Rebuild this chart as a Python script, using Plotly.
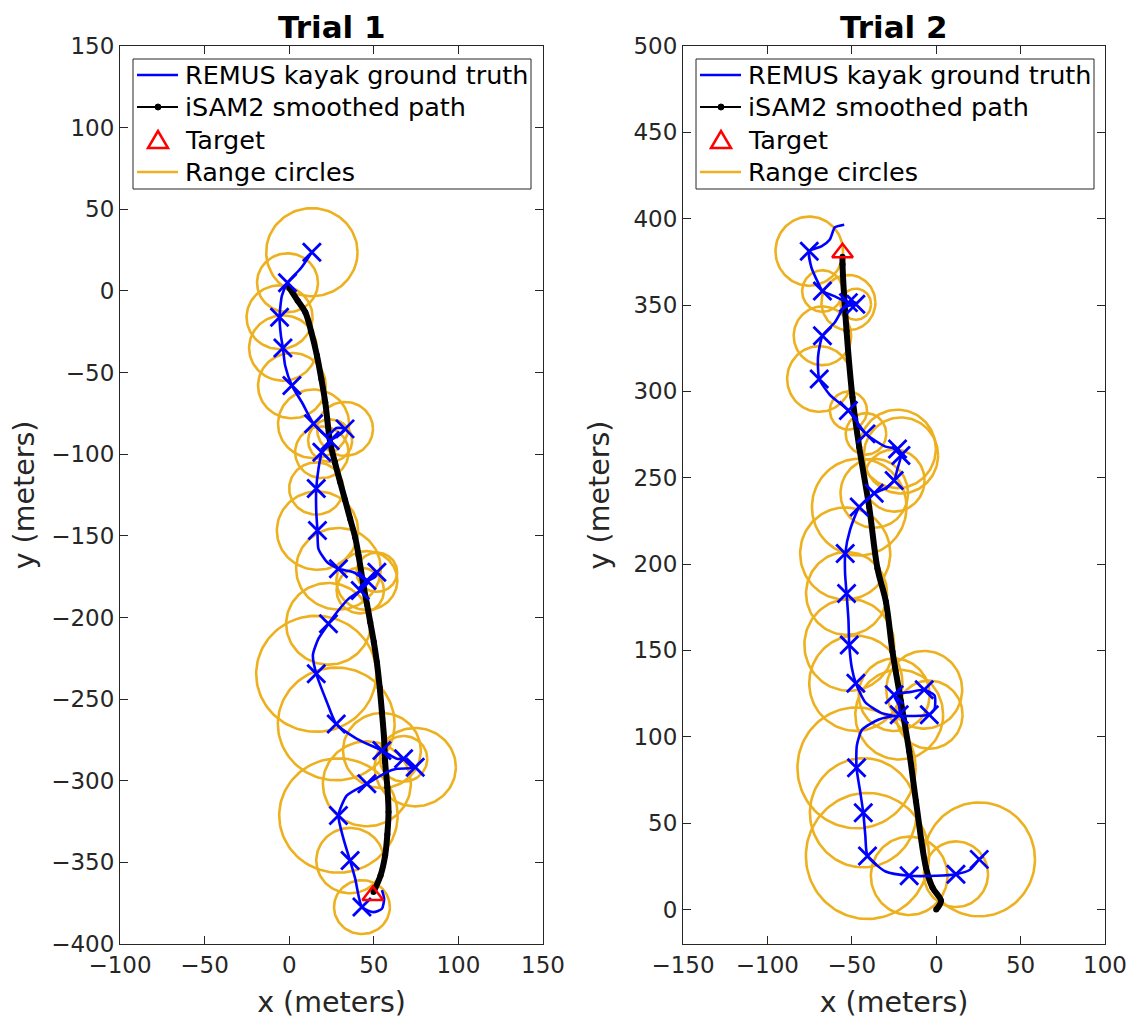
import numpy as np
import plotly.graph_objects as go

# ---------------- Trial 1 data ----------------
t1_truth_x = [13.4, 7, -1, -4.3, -5.7, -4.9, -3.7, -2.4, 1.6, 7.5, 14.4, 22.3, 28, 33, 30, 24.2, 19.3, 17.3, 16, 16, 16.7, 17.3,
              22.3, 29.1, 38, 45.9, 51, 51.8, 46, 42, 35, 28.2, 23.2, 17.3, 14, 16, 22.3, 27.8, 40, 54.8, 63.6, 67.6, 74.5,
              63.6, 57.7, 45.9, 34.1, 29.1, 32.1, 36, 39, 43, 49.8, 54.8, 56.1, 54.8]
t1_truth_y = [23.7, 14, 5, -2.9, -16.1, -27.4, -35, -45.7, -58, -68.2, -81.4, -88.6, -84, -84.5, -88, -91.7, -98.8, -109,
              -121, -135.5, -146.8, -158, -166, -170.2, -172.3, -177.4, -175, -172.3, -178, -183.5, -188.6, -196.8, -203.9,
              -213, -223, -234.5, -251.9, -265.2, -274.3, -281.5, -286.6, -286.6, -292, -292.7, -294.7, -301.9, -309,
              -321.3, -335.6, -349, -360, -377.4, -380.5, -378.4, -372.3, -367]
t1_meas_x = [13.4, -1, -5.7, -3.7, 1.6, 14.4, 33, 24.2, 19.3, 16, 16.7, 29.1, 45.9, 51.8, 42, 23.2, 16, 27.8, 54.8, 67.6,
             74.5, 45.9, 29.1, 36, 43]
t1_meas_y = [23.7, 5, -16.1, -35, -58, -81.4, -84.5, -91.7, -98.8, -121, -146.8, -170.2, -177.4, -172.3, -183.5, -203.9,
             -234.5, -265.2, -281.5, -286.6, -291.7, -301.9, -321.3, -348.9, -377.4]
t1_range = [27, 18, 19.5, 20, 20, 21, 16.5, 13, 15.8, 16, 24, 25, 18, 12, 14, 25, 35.5, 34.5, 23, 14, 24, 26, 35, 20, 16.5]
t1_isam_x = [0, 5, 9.5, 13, 16.4, 19, 21.3, 24.2, 27, 30.1, 33, 36, 39, 41, 43.9, 46, 47.9, 50, 51.8, 53.5, 54.8, 56,
             56.7, 58, 58.7, 58, 56.7, 54, 49.8]
t1_isam_y = [2, -6, -13, -25, -39.6, -54, -68.2, -92.7, -105, -117, -128, -139.6, -151, -162, -180.5, -192, -202.9, -215,
             -227.4, -243, -258, -273, -288.6, -304, -319.2, -333, -345.8, -358, -368.2]
t1_target = (49.4, -370.3)

# ---------------- Trial 2 data ----------------
t2_truth_x = [-54.5, -60, -63, -68, -75.2, -74, -70, -67.4, -60, -52, -47.6, -55, -60, -67.4, -70, -69.3, -63, -52, -41.6,
              -30, -22.9, -20.9, -23, -24.9, -30, -36.7, -45.6, -51, -53.9, -54, -53.1, -52, -51.5, -50, -47.6, -42, -33,
              -24, -21.9, -22, -24.9, -15, -7.1, -1, -1, -4.1, -14, -24, -34, -44, -47, -47.2, -45, -43.2, -42, -40.7,
              -30, -16, 0, 11.7, 20, 25.5, 28]
t2_truth_y = [396.5, 395, 388, 384, 381.2, 372, 363, 358.1, 355, 351.4, 351.4, 348, 340, 332.2, 320, 307.2, 298, 288.9,
              275.4, 268, 266.7, 262.9, 255, 248.4, 244, 241, 233, 220, 206.1, 195, 183, 168, 153.2, 140, 131, 120, 114,
              112, 112.8, 118, 124.3, 126, 127.2, 124, 116, 112.8, 112, 112, 110, 104, 95, 82, 68, 56, 43, 31, 22, 19.5,
              19.5, 20.4, 23, 29, 31]
t2_meas_x = [-75.2, -67.4, -52, -47.6, -67.4, -69.3, -52, -41.6, -22.9, -20.9, -24.9, -36.7, -45.6, -53.9, -53.1, -51.5,
             -47.6, -24.9, -21.9, -7.1, -4.1, -47.2, -43.2, -40.7, -16, 11.7, 25.5]
t2_meas_y = [381.2, 358.1, 351.4, 350.5, 332.2, 307.2, 288.9, 275.4, 266.7, 262.9, 248.4, 241, 233, 206.1, 183, 153.2,
             131, 124.3, 112.8, 127.2, 112.8, 82, 56, 31, 19.5, 20.4, 29]
t2_range = [20, 12, 16, 9, 17, 19, 11, 12, 22.7, 22, 18, 20, 28, 26.7, 24, 26.6, 27.6, 21, 26, 22.5, 19.7, 35, 31.6,
            36.5, 22.7, 19, 33]
t2_isam_x = [0, 2.8, -2.2, -6, -12, -16, -20.9, -25.9, -29.8, -34.8, -39.7, -45.6, -49.6, -53.1, -55.5, -55.5]
t2_isam_y = [0, 5, 12.7, 24, 62.7, 91.6, 120.5, 149.4, 178.2, 197.5, 233, 267.7, 296.6, 335, 373.6, 378]
t2_target = (-55.5, 380.3)

titles = ["Trial 1", "Trial 2"]
legend_labels = ["REMUS kayak ground truth", "iSAM2 smoothed path", "Target", "Range circles"]
x_ranges = [[-100, 150], [-150, 100]]
y_ranges = [[-400, 150], [-20, 500]]
x_ticks = [list(range(-100, 151, 50)), list(range(-150, 101, 50))]
y_ticks = [list(range(-400, 151, 50)), list(range(0, 501, 50))]

BLUE = "#0000FF"
ORANGE = "#EDB120"
RED = "#FF0000"
AX = "#262626"
FONT = "DejaVu Sans"

W, H = 1139, 1028
OFF = 8  # page body margin of the browser


def fx(px):
    return (px - OFF) / W


def fy(py):
    return 1 - (py - OFF) / H


dom_x = [[fx(120), fx(543)], [fx(683), fx(1105)]]
dom_y = [fy(944), fy(46)]
legend_left = [133, 696]   # legend box positions (page pixels)
LEG_W, LEG_TOP, LEG_BOT = 398, 59, 189
row_y = [75, 107, 140, 172]

fig = go.Figure()


def circles(cx, cy, r):
    th = np.linspace(0, 2 * np.pi, 121)
    xs, ys = [], []
    for a, b, c in zip(cx, cy, r):
        xs += list(a + c * np.cos(th)) + [None]
        ys += list(b + c * np.sin(th)) + [None]
    return xs, ys


datasets = [
    (t1_truth_x, t1_truth_y, t1_meas_x, t1_meas_y, t1_range, t1_isam_x, t1_isam_y, t1_target),
    (t2_truth_x, t2_truth_y, t2_meas_x, t2_meas_y, t2_range, t2_isam_x, t2_isam_y, t2_target),
]

for i, (tx, ty, mx, my, rr, ix, iy, tg) in enumerate(datasets):
    xa = "x" if i == 0 else "x2"
    ya = "y" if i == 0 else "y2"
    cxs, cys = circles(mx, my, rr)
    fig.add_trace(go.Scatter(x=cxs, y=cys, mode="lines", line=dict(color=ORANGE, width=2.6),
                             name=legend_labels[3], xaxis=xa, yaxis=ya, showlegend=False, hoverinfo="skip"))
    fig.add_trace(go.Scatter(x=ix, y=iy, mode="lines+markers", line=dict(color="black", width=6, shape="spline"),
                             marker=dict(color="black", size=6), name=legend_labels[1],
                             xaxis=xa, yaxis=ya, showlegend=False))
    fig.add_trace(go.Scatter(x=tx, y=ty, mode="lines", line=dict(color=BLUE, width=2.6, shape="spline", smoothing=0.6),
                             name=legend_labels[0], xaxis=xa, yaxis=ya, showlegend=False))
    fig.add_trace(go.Scatter(x=mx, y=my, mode="markers",
                             marker=dict(symbol="x-thin-open", size=18, color=BLUE, line=dict(color=BLUE, width=2.8)),
                             name="Range fixes", showlegend=False, xaxis=xa, yaxis=ya))
    fig.add_trace(go.Scatter(x=[tg[0]], y=[tg[1]], mode="markers",
                             marker=dict(symbol="triangle-up-open", size=18, color=RED, line=dict(color=RED, width=2.5)),
                             name=legend_labels[2], xaxis=xa, yaxis=ya, showlegend=False))

axis_common = dict(showgrid=False, zeroline=False, showline=True, linecolor=AX, linewidth=1,
                   mirror="allticks", ticks="inside", ticklen=8, tickcolor=AX, tickwidth=1,
                   automargin=False,
                   tickfont=dict(family=FONT, size=23, color=AX))

shapes = []
for i in range(2):
    sx = "" if i == 0 else "2"
    fig.update_layout({
        "xaxis" + sx: dict(axis_common, domain=dom_x[i], range=x_ranges[i], tickvals=x_ticks[i],
                           anchor="y" + sx,
                           title=dict(text="x (meters)", font=dict(family=FONT, size=28.5, color=AX))),
        "yaxis" + sx: dict(axis_common, domain=dom_y, range=y_ranges[i], tickvals=y_ticks[i],
                           anchor="x" + sx,
                           title=dict(text="y (meters)", font=dict(family=FONT, size=28.5, color=AX))),
    })
    fig.add_annotation(text="<b>" + titles[i] + "</b>", xref="paper", yref="paper",
                       x=(dom_x[i][0] + dom_x[i][1]) / 2, y=1.0, xanchor="center",
                       yanchor="top", showarrow=False, borderpad=0,
                       font=dict(family=FONT, size=31, color="black"))

    # ---- legend box drawn in the plot's top-left corner ----
    L = legend_left[i]
    shapes.append(dict(type="rect", xref="paper", yref="paper", x0=fx(L), x1=fx(L + LEG_W),
                       y0=fy(LEG_BOT), y1=fy(LEG_TOP), line=dict(color=AX, width=1), fillcolor="white",
                       layer="above"))
    icon_x0, icon_x1, icon_c = L + 4, L + 45, L + 25
    for row, col, wdt in [(0, BLUE, 2.6), (1, "black", 2.2), (3, ORANGE, 2.6)]:
        shapes.append(dict(type="line", xref="paper", yref="paper", x0=fx(icon_x0), x1=fx(icon_x1),
                           y0=fy(row_y[row]), y1=fy(row_y[row]), line=dict(color=col, width=wdt), layer="above"))
    shapes.append(dict(type="circle", xref="paper", yref="paper", x0=fx(icon_c - 3), x1=fx(icon_c + 3),
                       y0=fy(row_y[1] + 3), y1=fy(row_y[1] - 3), fillcolor="black", line=dict(color="black", width=1),
                       layer="above"))
    ty0 = row_y[2]
    tri = "M {:.5f} {:.5f} L {:.5f} {:.5f} L {:.5f} {:.5f} Z".format(
        fx(icon_c - 10), fy(ty0 + 8), fx(icon_c + 10), fy(ty0 + 8), fx(icon_c), fy(ty0 - 9))
    shapes.append(dict(type="path", xref="paper", yref="paper", path=tri, line=dict(color=RED, width=2.5),
                       layer="above"))
    for row, label in enumerate(legend_labels):
        fig.add_annotation(text=label, xref="paper", yref="paper", x=fx(L + 50), y=fy(row_y[row]),
                           xanchor="left", yanchor="middle", showarrow=False,
                           font=dict(family=FONT, size=25.5, color="black"))

fig.update_layout(
    width=W, height=H,
    margin=dict(l=0, r=0, t=0, b=0, autoexpand=False),
    paper_bgcolor="white", plot_bgcolor="white",
    showlegend=False,
    shapes=shapes,
    font=dict(family=FONT, color=AX),
)

fig.write_html("out.html")
